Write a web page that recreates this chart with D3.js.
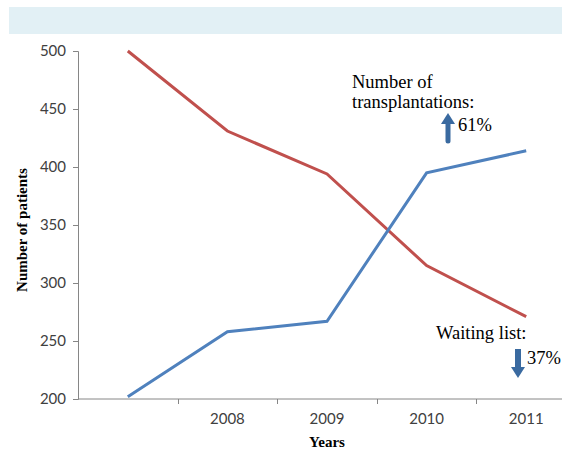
<!DOCTYPE html>
<html>
<head>
<meta charset="utf-8">
<script src="https://cdn.jsdelivr.net/npm/d3@7"></script>
<style>
  body { margin: 0; background: #fff; }
  svg { display: block; }
</style>
</head>
<body>
<svg width="562" height="452"></svg>
<script>
  var years = ["2007", "2008", "2009", "2010", "2011"];
  var tickLabels = ["", "2008", "2009", "2010", "2011"];
  var transplantations = [202, 258, 267, 395, 414];
  var waitingList = [500, 431, 394, 315, 271];
  var yTicks = [200, 250, 300, 350, 400, 450, 500];

  var svg = d3.select("svg");

  // light banner across the top
  svg.append("rect")
    .attr("x", 9).attr("y", 7)
    .attr("width", 553).attr("height", 27)
    .attr("fill", "#e2f0f5");

  var x = d3.scaleBand().domain(years).range([78, 576]);
  var y = d3.scaleLinear().domain([200, 500]).range([399, 51]);

  var axisColor = "#868686";

  // y axis
  var yAxis = svg.append("g")
    .attr("transform", "translate(78,0)")
    .call(d3.axisLeft(y).tickValues(yTicks).tickSize(5).tickPadding(7));
  yAxis.select(".domain").attr("stroke", axisColor);
  yAxis.selectAll(".tick line").attr("stroke", axisColor);
  yAxis.selectAll("text")
    .attr("font-family", "Lato, 'Open Sans', sans-serif")
    .attr("font-size", 15)
    .attr("fill", "#404040");

  // x axis: ticks at band boundaries, labels at centres
  var xg = svg.append("g");
  xg.append("line")
    .attr("x1", 78).attr("x2", 562)
    .attr("y1", 399).attr("y2", 399)
    .attr("stroke", axisColor);
  xg.selectAll(".xt")
    .data(years.slice(1))
    .enter().append("line")
    .attr("x1", function (d) { return Math.round(x(d)) + 0.5; })
    .attr("x2", function (d) { return Math.round(x(d)) + 0.5; })
    .attr("y1", 399).attr("y2", 404)
    .attr("stroke", axisColor);
  xg.selectAll(".xl")
    .data(years)
    .enter().append("text")
    .attr("x", function (d) { return x(d) + x.bandwidth() / 2; })
    .attr("y", 424)
    .attr("text-anchor", "middle")
    .attr("font-family", "Lato, 'Open Sans', sans-serif")
    .attr("font-size", 15)
    .attr("fill", "#404040")
    .text(function (d, i) { return tickLabels[i]; });

  // axis titles
  svg.append("text")
    .attr("transform", "translate(27,230) rotate(-90)")
    .attr("text-anchor", "middle")
    .attr("font-family", "'Liberation Serif', serif")
    .attr("font-weight", "bold")
    .attr("font-size", 15)
    .text("Number of patients");

  svg.append("text")
    .attr("x", 327).attr("y", 447)
    .attr("text-anchor", "middle")
    .attr("font-family", "'Liberation Serif', serif")
    .attr("font-weight", "bold")
    .attr("font-size", 15)
    .text("Years");

  // lines
  var line = d3.line()
    .x(function (d, i) { return x(years[i]) + x.bandwidth() / 2; })
    .y(function (d) { return y(d); });

  svg.append("path")
    .datum(waitingList)
    .attr("d", line)
    .attr("fill", "none")
    .attr("stroke", "#c0504d")
    .attr("stroke-width", 3);

  svg.append("path")
    .datum(transplantations)
    .attr("d", line)
    .attr("fill", "none")
    .attr("stroke", "#4f81bd")
    .attr("stroke-width", 3);

  // annotations
  var serif = "'Liberation Serif', 'Times New Roman', serif";
  var note = function (tx, ty, str) {
    svg.append("text")
      .attr("x", tx).attr("y", ty)
      .attr("font-family", serif)
      .attr("font-size", 18.5)
      .attr("fill", "#000")
      .text(str);
  };
  note(352, 88, "Number of");
  note(352, 108, "transplantations:");
  note(458, 131, "61%");
  note(436, 339, "Waiting list:");
  note(527, 364, "37%");

  var arrowColor = "#3a6aa0";
  // up arrow
  svg.append("line")
    .attr("x1", 448).attr("x2", 448)
    .attr("y1", 122).attr("y2", 141)
    .attr("stroke", arrowColor).attr("stroke-width", 5)
    .attr("stroke-linecap", "round");
  svg.append("path")
    .attr("d", "M441,124 L448,113 L455,124 Z")
    .attr("fill", arrowColor);
  // down arrow
  svg.append("line")
    .attr("x1", 518).attr("x2", 518)
    .attr("y1", 349).attr("y2", 368)
    .attr("stroke", arrowColor).attr("stroke-width", 6);
  svg.append("path")
    .attr("d", "M511,367 L518,378 L525,367 Z")
    .attr("fill", arrowColor);
</script>
</body>
</html>
